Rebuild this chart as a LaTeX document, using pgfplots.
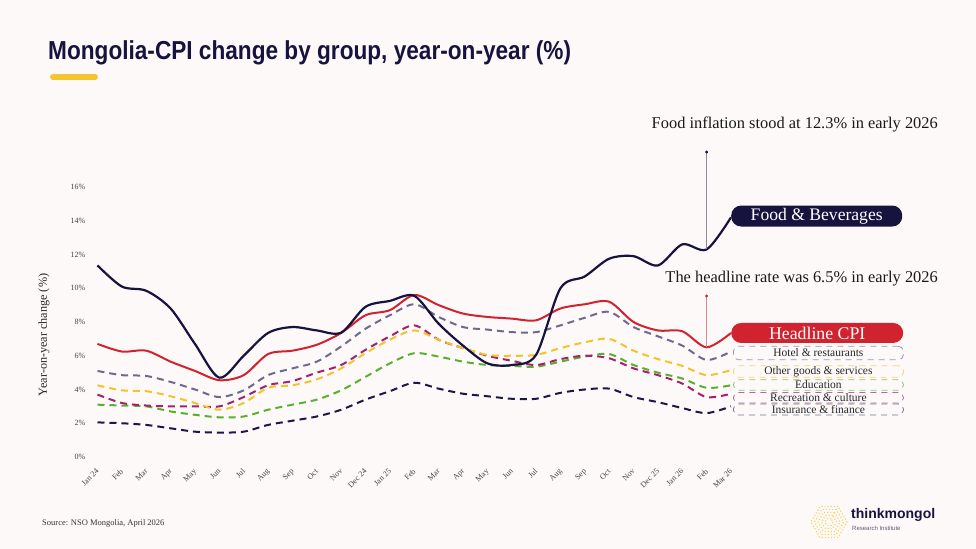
\documentclass[border=0pt]{standalone}
\usepackage{fontspec}
\setmainfont{Liberation Serif}
\newfontfamily\titlefont[FakeStretch=0.87]{Liberation Sans}
\newfontfamily\logofont{Liberation Sans}
\usepackage{pgfplots}
\usepackage{pgfplotstable}
\pgfplotsset{compat=1.18}
\usetikzlibrary{shapes.geometric}

\definecolor{bgcol}{HTML}{FDF9F9}
\definecolor{navy}{HTML}{17133F}
\definecolor{headred}{HTML}{D0232F}
\definecolor{hotelc}{HTML}{6E6A8C}
\definecolor{otherc}{HTML}{F3C32A}
\definecolor{educ}{HTML}{5BAF30}
\definecolor{recc}{HTML}{A3216F}
\definecolor{insc}{HTML}{1B1848}
\definecolor{gold}{HTML}{F5C531}
\definecolor{tickgrey}{HTML}{444444}
\definecolor{annotgrey}{HTML}{8C89A3}
\definecolor{annotred}{HTML}{D98A8A}

\tikzset{
  dsh/.style={dash pattern=on 7bp off 5bp, line width=2bp},
  boxlab/.style={anchor=west, xshift=2bp, rounded corners=5bp, dash pattern=on 6bp off 5bp,
    line width=0.8bp, minimum width=170bp, inner sep=0pt, text=black!85,
    font=\fontsize{11.5bp}{12bp}\selectfont},
}

% Year-on-year change by CPI group, Jan 2024 - Mar 2026 (index 0 = Jan 24)
\pgfplotstableread{
x food head hotel other edu rec ins
0 11.35 6.70 5.10 4.25 3.10 3.70 2.05
1 10.10 6.25 4.85 3.95 3.05 3.20 2.00
2 9.85 6.30 4.80 3.90 3.00 3.05 1.90
3 8.80 5.65 4.45 3.60 2.70 3.00 1.70
4 6.70 5.10 4.00 3.20 2.50 3.00 1.50
5 4.70 4.55 3.55 2.80 2.35 3.00 1.45
6 6.00 4.85 3.95 3.20 2.40 3.55 1.50
7 7.35 6.10 4.85 4.10 2.80 4.25 1.90
8 7.70 6.30 5.25 4.25 3.10 4.50 2.15
9 7.50 6.65 5.65 4.60 3.40 5.00 2.40
10 7.37 7.35 6.55 5.25 3.95 5.45 2.80
11 8.90 8.40 7.60 6.15 4.75 6.35 3.40
12 9.25 8.70 8.40 6.95 5.55 7.15 3.90
13 9.55 9.60 9.05 7.50 6.15 7.80 4.40
14 7.90 9.00 8.30 6.95 5.95 6.95 4.05
15 6.60 8.50 7.70 6.45 5.65 6.45 3.75
16 5.55 8.30 7.55 6.05 5.45 6.00 3.60
17 5.45 8.20 7.40 6.00 5.40 5.70 3.45
18 6.05 8.10 7.40 6.05 5.35 5.45 3.45
19 10.00 8.80 7.80 6.45 5.65 5.80 3.80
20 10.70 9.05 8.25 6.80 5.95 6.00 4.00
21 11.75 9.20 8.60 7.00 6.10 5.85 4.05
22 11.90 8.00 7.70 6.30 5.45 5.25 3.55
23 11.35 7.50 7.15 5.80 5.00 4.85 3.25
24 12.60 7.45 6.60 5.40 4.65 4.35 2.90
25 12.30 6.50 5.75 4.85 4.10 3.55 2.60
26 14.20 7.35 6.25 5.15 4.25 3.75 3.00
}\datatable

\begin{document}
\begin{tikzpicture}[x=1bp,y=1bp]
\fill[bgcol] (0,0) rectangle (976,549);
\path[use as bounding box] (0,0) rectangle (976,549);

% title and accent bar
\node[anchor=base west, inner sep=0pt, text=navy] at (48,489)
  {\titlefont\bfseries\fontsize{26bp}{30bp}\selectfont Mongolia-CPI change by group, year-on-year (\%)};
\draw[gold, line width=6bp, line cap=round] (53,472) -- (95,472);

% y axis title
\node[rotate=90, text=black!85, inner sep=0pt] at (44,214)
  {\fontsize{12.2bp}{14bp}\selectfont Year-on-year change (\%)};

\begin{axis}[
  at={(97.5bp,92bp)}, anchor=south west,
  scale only axis, width=633.5bp, height=270bp,
  xmin=0, xmax=26, ymin=0, ymax=16,
  clip=false,
  axis line style={draw=none},
  major tick length=0pt,
  xtick={0,...,26},
  xticklabels={Jan 24,Feb,Mar,Apr,May,Jun,Jul,Aug,Sep,Oct,Nov,Dec 24,Jan 25,Feb,Mar,Apr,May,Jun,Jul,Aug,Sep,Oct,Nov,Dec 25,Jan 26,Feb,Mar 26},
  % shifts act in the rotated frame: (-9.2,-6.4) moves the label about 2bp left and 11bp down
  xticklabel style={rotate=45, anchor=north east, inner sep=0pt, xshift=-9.2bp, yshift=-6.4bp,
    font=\fontsize{8bp}{9bp}\selectfont, text=tickgrey},
  ytick={0,2,...,16},
  yticklabels={0\%,2\%,4\%,6\%,8\%,10\%,12\%,14\%,16\%},
  yticklabel style={anchor=east, inner sep=0pt, xshift=-12bp,
    font=\fontsize{8bp}{9bp}\selectfont, text=tickgrey},
  every axis plot/.append style={smooth, tension=0.5, line join=round},
]
\addplot[insc, dsh] table[x=x, y=ins] {\datatable};
\addplot[educ, dsh] table[x=x, y=edu] {\datatable};
\addplot[recc, dsh] table[x=x, y=rec] {\datatable};
\addplot[otherc, dsh] table[x=x, y=other] {\datatable};
\addplot[hotelc, dsh] table[x=x, y=hotel] {\datatable};
\addplot[headred, line width=2bp] table[x=x, y=head] {\datatable};
\addplot[navy, line width=2.2bp] table[x=x, y=food] {\datatable};

% call-out stems for Feb 26
\addplot[annotgrey, line width=0.9bp, sharp plot] coordinates {(25,12.3) (25,18.07)};
\addplot[only marks, mark=*, mark size=1.3bp, navy] coordinates {(25,18.07)};
\addplot[annotred, line width=0.9bp, sharp plot] coordinates {(25,6.5) (25,9.54)};
\addplot[only marks, mark=*, mark size=1.3bp, headred] coordinates {(25,9.54)};

% series labels at the end of the lines
\node[anchor=west, fill=navy, rounded corners=10bp, minimum width=171bp, minimum height=21bp,
  inner sep=0pt, text=white, font=\fontsize{17.6bp}{20bp}\selectfont] at (axis cs:26,14.28) {Food \& Beverages};
\node[anchor=west, fill=headred, rounded corners=10bp, minimum width=172bp, minimum height=20bp,
  inner sep=0pt, text=white, font=\fontsize{17.8bp}{20bp}\selectfont] at (axis cs:26,7.35) {Headline CPI};
\node[boxlab, draw=hotelc!70, minimum height=13.5bp] at (axis cs:26,6.16) {Hotel \& restaurants};
\node[boxlab, draw=otherc!70, minimum height=11.5bp] at (axis cs:26,5.07) {Other goods \& services};
\node[boxlab, draw=educ!70, minimum height=10.5bp] at (axis cs:26,4.27) {Education};
\node[boxlab, draw=recc!70, minimum height=10.5bp] at (axis cs:26,3.51) {Recreation \& culture};
\node[boxlab, draw=insc!60, minimum height=11bp] at (axis cs:26,2.81) {Insurance \& finance};
\end{axis}

% call-out texts
\node[anchor=base east, inner sep=0pt, text=black!90] at (938,420)
  {\fontsize{16.4bp}{18bp}\selectfont Food inflation stood at 12.3\% in early 2026};
\node[anchor=base east, inner sep=0pt, text=black!90] at (938,266)
  {\fontsize{16.4bp}{18bp}\selectfont The headline rate was 6.5\% in early 2026};

% source note
\node[anchor=base west, inner sep=0pt, text=black!80] at (42,23)
  {\fontsize{8.5bp}{10bp}\selectfont Source: NSO Mongolia, April 2026};

% logo
\foreach \r in {18,14.5,11,7.5,4}
  \node[regular polygon, regular polygon sides=6, minimum size=2*\r bp, inner sep=0pt,
        draw=gold!80, dotted, line width=1.1bp] at (829,27) {};
\node[anchor=base west, inner sep=0pt, text=navy] at (851,30)
  {\logofont\bfseries\fontsize{14bp}{16bp}\selectfont thinkmongol};
\node[anchor=base west, inner sep=0pt, text=navy!70] at (852,18)
  {\logofont\fontsize{6bp}{7bp}\selectfont Research Institute};
\end{tikzpicture}
\end{document}
